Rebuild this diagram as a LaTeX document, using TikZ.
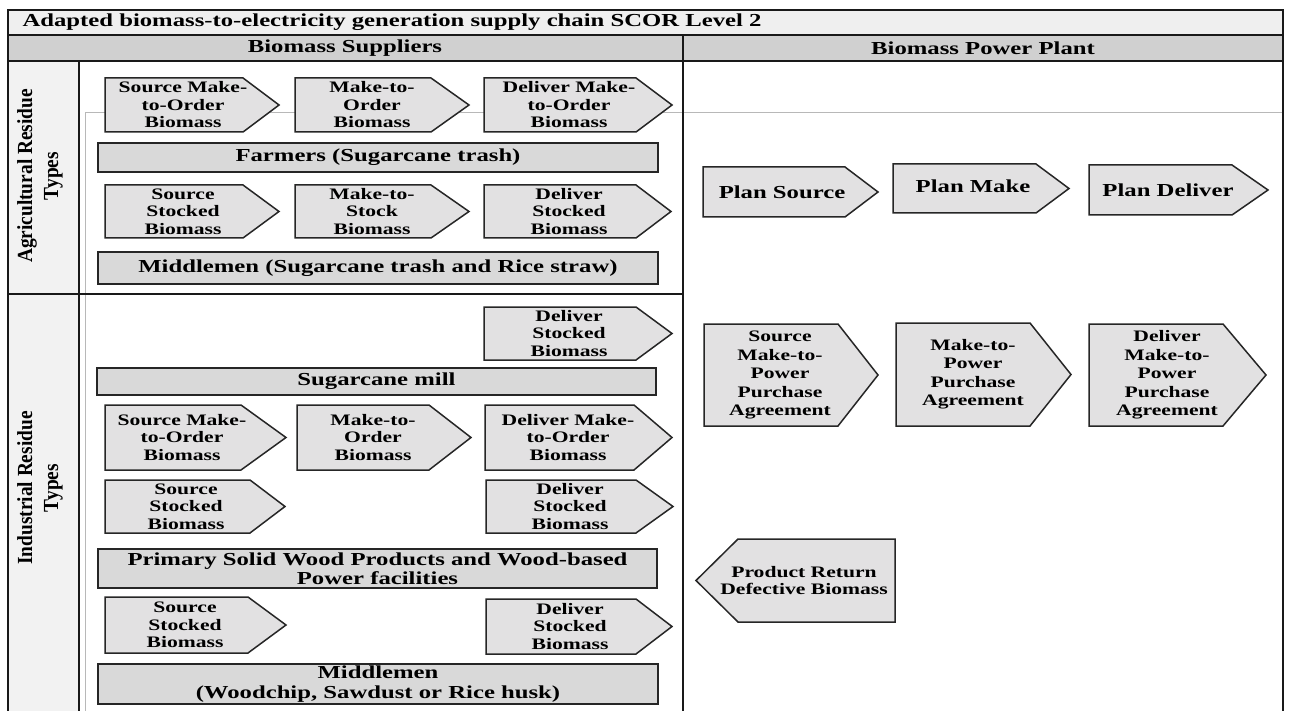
\documentclass[tikz,border=0pt]{standalone}
\usepackage{fontspec}
\setmainfont{Liberation Serif}[FakeStretch=1.35]
\newfontfamily\sidefont{Liberation Serif}[FakeStretch=0.9]

\definecolor{titlegray}{HTML}{EFEFEF}
\definecolor{headgray}{HTML}{D0D0D0}
\definecolor{bargray}{HTML}{D9D9D9}
\definecolor{chevgray}{HTML}{E2E1E2}
\definecolor{sidegray}{HTML}{F2F2F2}
\definecolor{framegray}{HTML}{B8B8B8}

\tikzset{
  chev/.style={draw=black!85, line width=1.5pt, fill=chevgray, line join=miter},
  bar/.style={draw=black!85, line width=1.5pt, fill=bargray},
  rule/.style={draw=black!90, line width=1.5pt},
  smalltxt/.style={align=center, font=\fontsize{16}{17.5}\selectfont\bfseries},
  bigtxt/.style={align=center, font=\fontsize{18.3}{19.5}\selectfont\bfseries},
  sidetxt/.style={align=center, rotate=90, font=\sidefont\fontsize{21.5}{26}\selectfont\bfseries},
}

\begin{document}
\begin{tikzpicture}[x=1pt,y=-1pt]

    \useasboundingbox (0,0) rectangle (1290,711);

    % table frame
    \fill[titlegray] (8,10) rectangle (1283,35);
    \fill[headgray] (8,35) rectangle (1283,61);
    \fill[sidegray] (8,61) rectangle (79,711);
    \draw[framegray, line width=0.8pt] (85,711) -- (85,112) -- (1283,112);
    \draw[rule] (8,711) -- (8,10) -- (1283,10) -- (1283,711);
    \draw[rule] (8,35) -- (1283,35);
    \draw[rule] (8,61) -- (1283,61);
    \draw[rule] (683,35) -- (683,711);
    \draw[rule] (79,61) -- (79,711);
    \draw[rule] (8,294) -- (683,294);

    \node[bigtxt, anchor=west] (title) at (19,22.5) {Adapted biomass-to-electricity generation supply chain SCOR Level 2};
    \node[bigtxt] (suppliers) at (345,48) {Biomass Suppliers};
    \node[bigtxt] (plant) at (983,48) {Biomass Power Plant};
    \node[sidetxt] (agri) at (40,176) {Agricultural Residue\\Types};
    \node[sidetxt] (indus) at (40,488) {Industrial Residue\\Types};

    % agricultural residue types
    \draw[chev] (105,78) -- (243,78) -- (279,105) -- (243,132) -- (105,132) -- cycle;
    \node[smalltxt] (agSrcMto) at (183,105) {Source Make-\\to-Order\\Biomass};
    \draw[chev] (295,78) -- (431,78) -- (469,105) -- (431,132) -- (295,132) -- cycle;
    \node[smalltxt] (agMto) at (372,105) {Make-to-\\Order\\Biomass};
    \draw[chev] (484,78) -- (636,78) -- (672,105) -- (636,132) -- (484,132) -- cycle;
    \node[smalltxt] (agDelMto) at (569,105) {Deliver Make-\\to-Order\\Biomass};

    \draw[bar] (98,143) rectangle (658,172);
    \node[bigtxt] (farmers) at (378,157.5) {Farmers (Sugarcane trash)};

    \draw[chev] (105,185) -- (243,185) -- (279,211.5) -- (243,238) -- (105,238) -- cycle;
    \node[smalltxt] (agSrcStk) at (183,211.5) {Source\\Stocked\\Biomass};
    \draw[chev] (295,185) -- (431,185) -- (469,211.5) -- (431,238) -- (295,238) -- cycle;
    \node[smalltxt] (agMts) at (372,211.5) {Make-to-\\Stock\\Biomass};
    \draw[chev] (484,185) -- (636,185) -- (671,211.5) -- (636,238) -- (484,238) -- cycle;
    \node[smalltxt] (agDelStk) at (569,211.5) {Deliver\\Stocked\\Biomass};

    \draw[bar] (98,252) rectangle (658,284);
    \node[bigtxt] (agMiddle) at (378,268) {Middlemen (Sugarcane trash and Rice straw)};

    % industrial residue types
    \draw[chev] (484,307) -- (636,307) -- (672,333.5) -- (636,360) -- (484,360) -- cycle;
    \node[smalltxt] (millDel) at (569,333.5) {Deliver\\Stocked\\Biomass};

    \draw[bar] (97,368) rectangle (656,395);
    \node[bigtxt] (mill) at (376.5,381.5) {Sugarcane mill};

    \draw[chev] (105,405) -- (241,405) -- (286,437.5) -- (241,470) -- (105,470) -- cycle;
    \node[smalltxt] (inSrcMto) at (182,437.5) {Source Make-\\to-Order\\Biomass};
    \draw[chev] (297,405) -- (429,405) -- (471,437.5) -- (429,470) -- (297,470) -- cycle;
    \node[smalltxt] (inMto) at (373,437.5) {Make-to-\\Order\\Biomass};
    \draw[chev] (485,405) -- (634,405) -- (672,437.5) -- (634,470) -- (485,470) -- cycle;
    \node[smalltxt] (inDelMto) at (568,437.5) {Deliver Make-\\to-Order\\Biomass};

    \draw[chev] (105,480) -- (250,480) -- (285,506.5) -- (250,533) -- (105,533) -- cycle;
    \node[smalltxt] (inSrcStk) at (186,506.5) {Source\\Stocked\\Biomass};
    \draw[chev] (486,480) -- (636,480) -- (673,506.5) -- (636,533) -- (486,533) -- cycle;
    \node[smalltxt] (inDelStk) at (570,506.5) {Deliver\\Stocked\\Biomass};

    \draw[bar] (98,549) rectangle (657,588);
    \node[bigtxt] (wood) at (377.5,568.5) {Primary Solid Wood Products and Wood-based\\Power facilities};

    \draw[chev] (105,597) -- (248,597) -- (286,625) -- (248,653) -- (105,653) -- cycle;
    \node[smalltxt] (woodSrc) at (185,625) {Source\\Stocked\\Biomass};
    \draw[chev] (486,599) -- (636,599) -- (672,626.5) -- (636,654) -- (486,654) -- cycle;
    \node[smalltxt] (woodDel) at (570,626.5) {Deliver\\Stocked\\Biomass};

    \draw[bar] (98,664) rectangle (658,704);
    \node[bigtxt] (inMiddle) at (378,684) {Middlemen\\(Woodchip, Sawdust or Rice husk)};

    % biomass power plant
    \draw[chev] (703,167) -- (845,167) -- (878,192) -- (845,217) -- (703,217) -- cycle;
    \node[bigtxt] (planSrc) at (782,192) {Plan Source};
    \draw[chev] (893,164) -- (1036,164) -- (1069,188.5) -- (1036,213) -- (893,213) -- cycle;
    \node[bigtxt] (planMake) at (973,186) {Plan Make};
    \draw[chev] (1089,165) -- (1232,165) -- (1268,190) -- (1232,215) -- (1089,215) -- cycle;
    \node[bigtxt] (planDel) at (1168,190) {Plan Deliver};

    \draw[chev] (704,324) -- (838,324) -- (878,375) -- (838,426) -- (704,426) -- cycle;
    \node[smalltxt, font=\fontsize{16}{18.5}\selectfont\bfseries] (ppaSrc) at (780,375) {Source\\Make-to-\\Power\\Purchase\\Agreement};
    \draw[chev] (896,323) -- (1030,323) -- (1071,374.5) -- (1030,426) -- (896,426) -- cycle;
    \node[smalltxt, font=\fontsize{16}{18.5}\selectfont\bfseries] (ppaMake) at (973,374) {Make-to-\\Power\\Purchase\\Agreement};
    \draw[chev] (1089,324) -- (1223,324) -- (1266,375) -- (1223,426) -- (1089,426) -- cycle;
    \node[smalltxt, font=\fontsize{16}{18.5}\selectfont\bfseries] (ppaDel) at (1167,375) {Deliver\\Make-to-\\Power\\Purchase\\Agreement};

    \draw[chev] (895,539) -- (738,539) -- (696,580.5) -- (738,622) -- (895,622) -- cycle;
    \node[smalltxt] (ret) at (804,580.5) {Product Return\\Defective Biomass};

\end{tikzpicture}
\end{document}
